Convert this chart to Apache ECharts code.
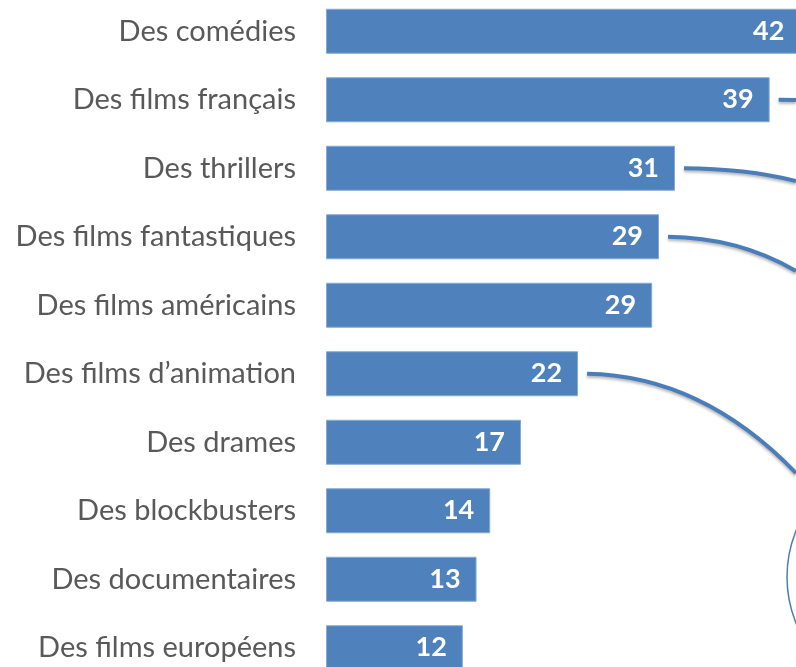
<!DOCTYPE html>
<html>
<head>
<meta charset="utf-8">
<script src="https://cdn.jsdelivr.net/npm/echarts@6/dist/echarts.min.js"></script>
<style>
  html, body { margin: 0; padding: 0; background: #fff; }
  #chart { width: 796px; height: 667px; }
</style>
</head>
<body>
<div id="chart"></div>
<script>
// genres, top to bottom
var genres = [
    'Des comédies',
    'Des films français',
    'Des thrillers',
    'Des films fantastiques',
    'Des films américains',
    'Des films d\u2019animation',
    'Des drames',
    'Des blockbusters',
    'Des documentaires',
    'Des films européens'
];

// (labels show them rounded)
var scores = [41.6, 38.9, 30.6, 29.2, 28.6, 22.1, 17.1, 14.4, 13.2, 12.0];

// bars that get a connector line going off to the right
var linkedBars = [1, 2, 3, 5];

var barColor = '#4f81bd';
var lineColor = '#4a7ebb';

var chart = echarts.init(document.getElementById('chart'));

var option = {
    animation: false,
    grid: {
        left: 326,
        right: -9,
        top: -3,
        bottom: -15,
        outerBoundsMode: 'none',
        containLabel: false
    },
    xAxis: {
        type: 'value',
        min: 0,
        max: 42,
        show: false
    },
    yAxis: {
        type: 'category',
        data: genres,
        inverse: true,
        axisLine: { show: false },
        axisTick: { show: false },
        axisLabel: {
            margin: 30,
            fontSize: 29,
            color: '#595959',
            fontFamily: 'Lato'
        }
    },
    series: [{
        type: 'bar',
        data: scores,
        barWidth: 45,
        itemStyle: {
            color: barColor,
            borderColor: '#86a9d6',
            borderWidth: 1
        },
        label: {
            show: true,
            position: 'insideRight',
            distance: 16,
            color: '#fff',
            fontSize: 27,
            fontWeight: 'bold',
            fontFamily: 'Lato',
            formatter: function (p) {
                return Math.round(p.value);
            }
        }
    }]
};

chart.setOption(option);

// connector curves, anchored on the end of each bar
var ends = [[796, 100], [796, 181], [796, 271], [796, 473]];
var curves = [];
linkedBars.forEach(function (idx, i) {
    var p = chart.convertToPixel({ seriesIndex: 0 }, [scores[idx], idx]);
    var x1 = p[0] + 9, y1 = p[1];
    var e = ends[i];
    curves.push({
        type: 'bezierCurve',
        shape: {
            x1: x1, y1: y1,
            x2: e[0], y2: e[1],
            cpx1: x1 + (e[0] - x1) * 0.55,
            cpy1: y1 + (e[1] - y1) * 0.02
        },
        style: {
            stroke: lineColor,
            lineWidth: 4,
            fill: null,
            shadowBlur: 3,
            shadowOffsetY: 2,
            shadowColor: 'rgba(0,0,0,0.3)'
        },
        z: 5
    });
});
curves.push({
    type: 'circle',
    shape: { cx: 909, cy: 577, r: 122 },
    style: { stroke: lineColor, lineWidth: 1.5, fill: null },
    z: 5
});

chart.setOption({ graphic: curves });
</script>
</body>
</html>
